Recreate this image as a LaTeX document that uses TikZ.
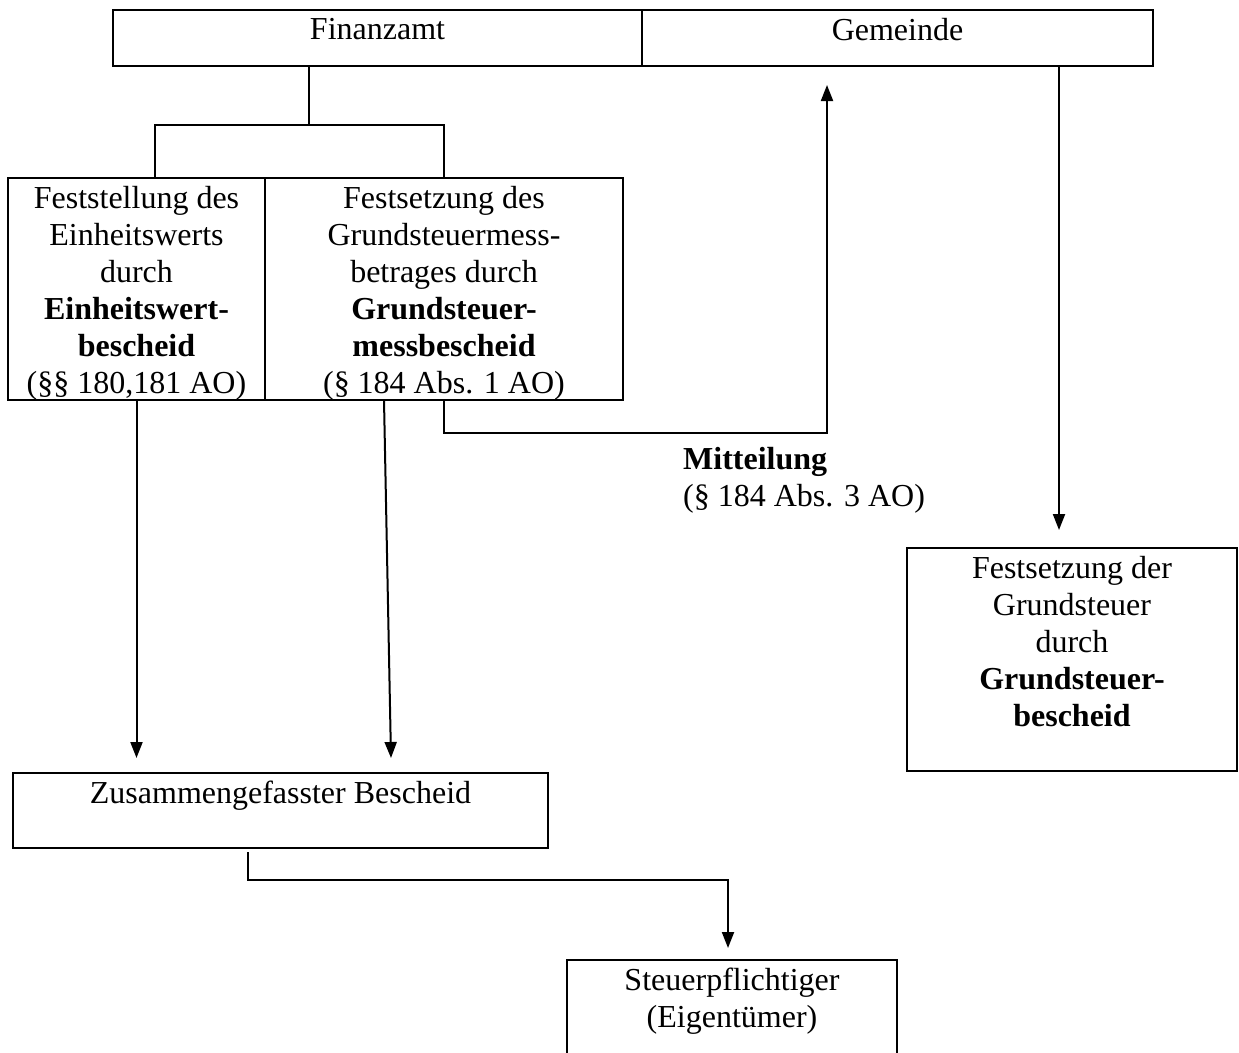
\documentclass[tikz,border=0pt]{standalone}
\usepackage{fontspec}
\setmainfont{Liberation Serif}
\usetikzlibrary{arrows.meta, positioning, calc}

\tikzset{
  box/.style={draw, line width=2.5pt, inner sep=0pt, outer sep=0pt, anchor=north west},
  boxtext/.style={align=center, inner sep=0pt, font=\fontsize{32}{37}\selectfont},
  link/.style={line width=2pt},
  arrow/.style={link, -{Triangle[length=16pt, width=12pt]}},
}

\begin{document}
\begin{tikzpicture}[x=1pt, y=-1pt]
  \clip (0,0) rectangle (1239,1052);

  % Finanzamt / Gemeinde
  \node[box, minimum width=529pt, minimum height=56pt] (finanzamt) at (113,10) {};
  \node[box, minimum width=511pt, minimum height=56pt] (gemeinde) at (642,10) {};
  \node[boxtext, below=8pt of finanzamt.north] (finanzamttext) {Finanzamt};
  \node[boxtext, below=8pt of gemeinde.north] (gemeindetext) {Gemeinde};

  % Einheitswert and Grundsteuermessbetrag
  \node[box, minimum width=257pt, minimum height=222pt] (einheit) at (8,178) {};
  \node[box, minimum width=358pt, minimum height=222pt] (mess) at (265,178) {};
  \node[boxtext, below=8pt of einheit.north] (einheittext) {
    Feststellung des\\Einheitswerts\\durch\\
    \textbf{Einheitswert-}\\\textbf{bescheid}\\(§§ 180,181 AO)
  };
  \node[boxtext, below=8pt of mess.north] (messtext) {
    Festsetzung des\\Grundsteuermess-\\betrages durch\\
    \textbf{Grundsteuer-}\\\textbf{messbescheid}\\(§ 184 Abs. 1 AO)
  };

  % Grundsteuerbescheid
  \node[box, minimum width=330pt, minimum height=223pt] (grundsteuer) at (907,548) {};
  \node[boxtext, below=8pt of grundsteuer.north] (grundsteuertext) {
    Festsetzung der\\Grundsteuer\\durch\\
    \textbf{Grundsteuer-}\\\textbf{bescheid}
  };

  % Zusammengefasster Bescheid
  \node[box, minimum width=535pt, minimum height=75pt] (zusammen) at (13,773) {};
  \node[boxtext, below=8pt of zusammen.north] (zusammentext) {Zusammengefasster Bescheid};

  % Steuerpflichtiger
  \node[box, minimum width=330pt, minimum height=110pt] (steuerpfl) at (567,960) {};
  \node[boxtext, below=8pt of steuerpfl.north] (steuerpfltext) {Steuerpflichtiger\\(Eigentümer)};

  % Mitteilung
  \node[boxtext, align=left, anchor=north west] (mitteilung) at (683,447) {
    \textbf{Mitteilung}\\(§ 184 Abs. 3 AO)
  };

  % connectors
  \coordinate (split) at (309,125);
  \draw[link] (split |- finanzamt.south) -- (split);
  \draw[link] ($(einheit.north)+(18,0)$) |- (split) -| (mess.north);
  \draw[arrow] (einheit.south) -- ($(einheit.south |- zusammen.north)+(0,-15)$);
  \draw[arrow] ($(mess.south)+(-60,0)$) -- ($(mess.south |- zusammen.north)+(-53,-15)$);
  \draw[arrow] (mess.south) -- ++(0,33) -| ($(gemeinde.south west)+(185,19)$);
  \draw[arrow] ($(gemeinde.south west)+(417,0)$) -- ($(grundsteuer.north)+(-13,-18)$);
  \draw[arrow] ($(zusammen.south)+(-33,4)$) -- ++(0,28) -| ($(steuerpfl.north)+(-4,-12)$);
\end{tikzpicture}
\end{document}
